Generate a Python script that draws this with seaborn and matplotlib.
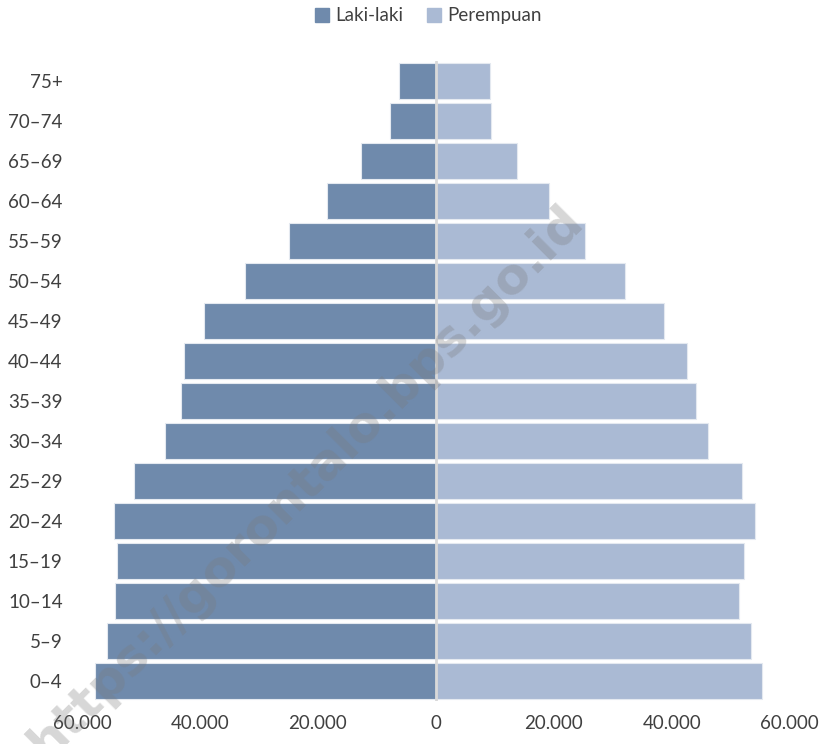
import matplotlib
matplotlib.use("Agg")
import matplotlib.pyplot as plt
import seaborn as sns
import pandas as pd
from matplotlib.lines import Line2D

age_groups = ['75+', '70–74', '65–69', '60–64', '55–59', '50–54', '45–49', '40–44',
              '35–39', '30–34', '25–29', '20–24', '15–19', '10–14', '5–9', '0–4']
laki_laki = [6340, 7800, 12710, 18480, 24920, 32370, 39320, 42710,
             43220, 45930, 51190, 54580, 54070, 54410, 55770, 57750]
perempuan = [9090, 9320, 13830, 19200, 25260, 32040, 38650, 42540,
             44070, 46100, 51870, 54070, 52210, 51410, 53500, 55310]
x_ticks = [-60000, -40000, -20000, 0, 20000, 40000, 60000]
x_tick_labels = ['60.000', '40.000', '20.000', '0', '20.000', '40.000', '60.000']
series_names = ['Laki-laki', 'Perempuan']

c_male = '#6F8AAC'
c_female = '#AABAD4'
text_c = '#404040'

sns.set_theme(style='white')
plt.rcParams['font.family'] = ['Lato', 'DejaVu Sans']

df = pd.DataFrame({
    'age': age_groups * 2,
    'value': [-v for v in laki_laki] + perempuan,
    'sex': [series_names[0]] * len(age_groups) + [series_names[1]] * len(age_groups),
})

fig = plt.figure(figsize=(8.27, 7.44), dpi=100)
ax = fig.add_axes([0.0992, 0.0578, 0.8558, 0.8602])

sns.barplot(data=df, y='age', x='value', hue='sex', order=age_groups,
            hue_order=series_names, palette=[c_male, c_female], dodge=False,
            orient='h', width=0.88, edgecolor='#e4e9f0', linewidth=0.8,
            saturation=1, legend=False, ax=ax, zorder=2)

ax.axvline(0, color='#d9d9d9', lw=2, zorder=3)
ax.set_xlim(-60000, 60000)
ax.set_ylim(len(age_groups) - 0.5, -0.5)
ax.set_xticks(x_ticks)
ax.set_xticklabels(x_tick_labels, fontsize=13.5, color=text_c)
ax.tick_params(axis='y', labelsize=13.5, labelcolor=text_c, length=0, pad=14)
ax.tick_params(axis='x', length=0, pad=10)
for lab in ax.get_yticklabels():
    lab.set_color(text_c)
ax.set_xlabel('')
ax.set_ylabel('')
for s in ax.spines.values():
    s.set_visible(False)

handles = [Line2D([0], [0], marker='s', color='none', markerfacecolor=c, markeredgecolor=c,
                  markersize=10) for c in (c_male, c_female)]
fig.legend(handles, series_names, loc='center', bbox_to_anchor=(0.518, 0.979), ncol=2,
           frameon=False, fontsize=13.5, handlelength=0.7, handletextpad=0.35,
           columnspacing=1.3, labelcolor=text_c)

fig.text(0.37, 0.352, 'https://gorontalo.bps.go.id', rotation=45, fontsize=36,
         fontweight='bold', color='#7a7a7a', alpha=0.3, ha='center', va='center',
         family=['DejaVu Sans'], zorder=10)

fig.savefig('out.png', dpi=100)
